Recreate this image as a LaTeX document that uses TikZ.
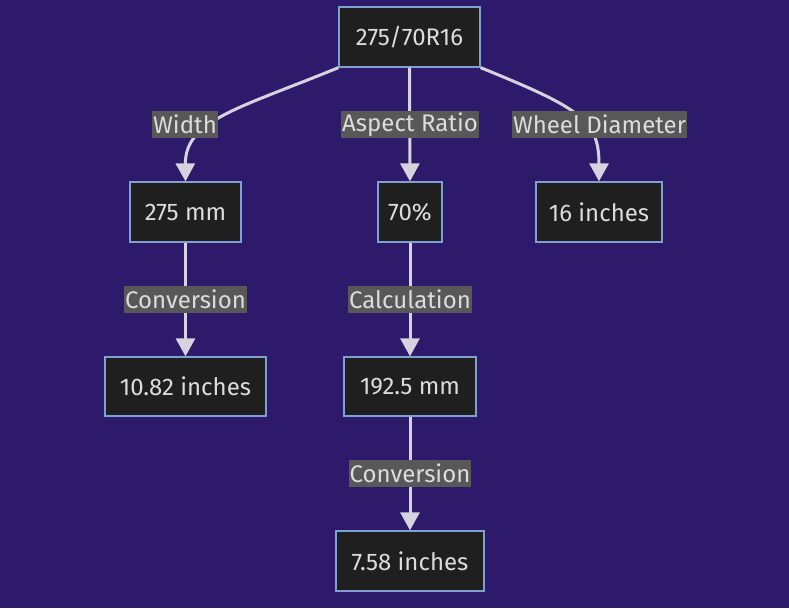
\documentclass[tikz,border=0pt]{standalone}
\usepackage{fontspec}
\setmainfont{Fira Sans}
\usetikzlibrary{arrows.meta}
\definecolor{bg}{RGB}{45,26,106}
\definecolor{nodefill}{RGB}{31,31,31}
\definecolor{nodeborder}{RGB}{128,160,212}
\definecolor{edgecol}{RGB}{214,210,224}
\definecolor{lblfill}{RGB}{88,88,88}
\definecolor{txt}{RGB}{220,220,220}
\begin{document}
\begin{tikzpicture}[x=1pt,y=-1pt,
  box/.style={draw=nodeborder,line width=1.3pt,fill=nodefill,text=txt,font=\fontsize{24}{28}\selectfont,inner sep=0pt,anchor=center},
  lbl/.style={fill=lblfill,text=txt,font=\fontsize{24}{28}\selectfont,inner xsep=1pt,inner ysep=0pt,minimum height=27pt,anchor=center},
  conn/.style={draw=edgecol,line width=3pt,-{Triangle[width=19pt,length=18pt]}}]
\fill[bg] (0,0) rectangle (789,608);
\useasboundingbox (0,0) rectangle (789,608);
% nodes
\node[box,minimum width=141pt,minimum height=60pt] (top) at (409.5,37) {275/70R16};
\node[box,minimum width=111pt,minimum height=60pt] (w) at (185.5,212) {275 mm};
\node[box,minimum width=64pt,minimum height=60pt] (ar) at (410,212) {70\%};
\node[box,minimum width=126pt,minimum height=60pt] (wd) at (599,212) {16 inches};
\node[box,minimum width=161pt,minimum height=59pt] (wi) at (185.5,386.5) {10.82 inches};
\node[box,minimum width=132pt,minimum height=59pt] (h) at (410,386.5) {192.5 mm};
\node[box,minimum width=148pt,minimum height=60pt] (hi) at (410,561) {7.58 inches};
% edges
\draw[conn] (top.south west) .. controls (240,108) and (185,120) .. (w.north);
\draw[conn] (top.south) -- (ar.north);
\draw[conn] (top.south east) .. controls (580,108) and (599,120) .. (wd.north);
\draw[conn] (w.south) -- (wi.north);
\draw[conn] (ar.south) -- (h.north);
\draw[conn] (h.south) -- (hi.north);
% labels
\node[lbl] (l1) at (185,124.5) {Width};
\node[lbl] (l2) at (410,124.5) {Aspect Ratio};
\node[lbl] (l3) at (599.5,124.5) {Wheel Diameter};
\node[lbl] (l4) at (185.5,299) {Conversion};
\node[lbl] (l5) at (410,299) {Calculation};
\node[lbl] (l6) at (410,473) {Conversion};
\end{tikzpicture}
\end{document}
